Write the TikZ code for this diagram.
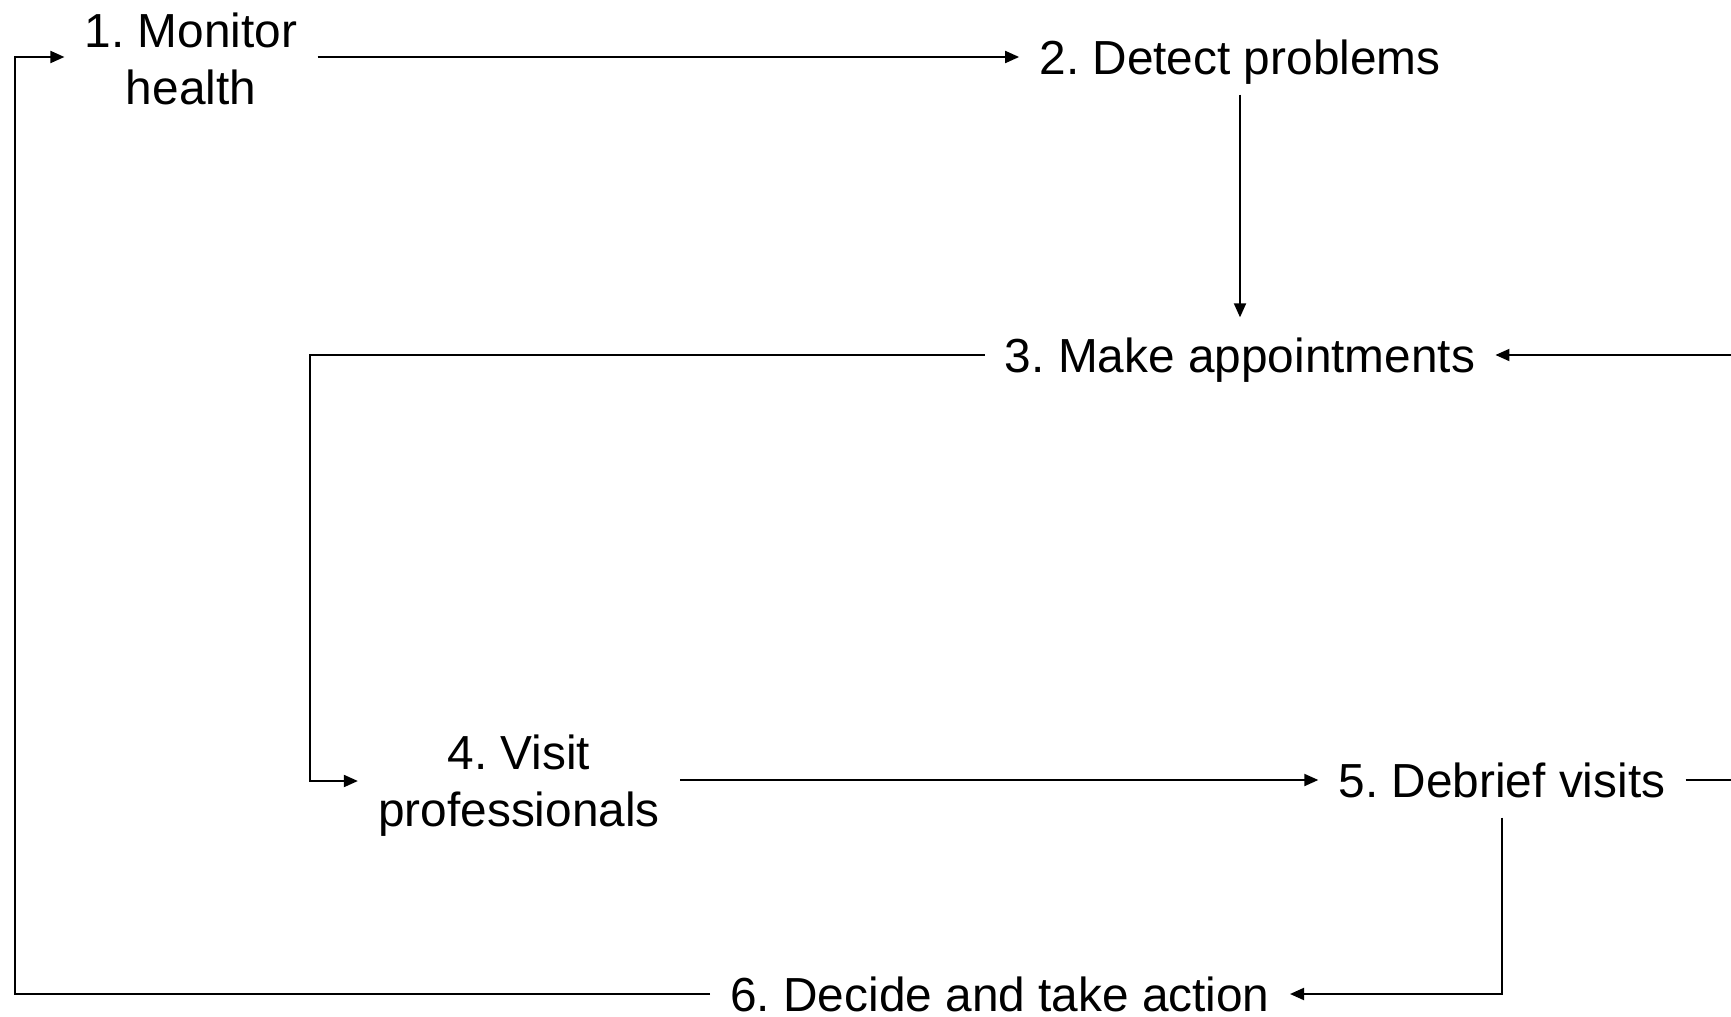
\documentclass[tikz,border=0pt]{standalone}
\usepackage{fontspec}
\setmainfont{Liberation Sans}
\usepackage{tikz}
\usetikzlibrary{arrows.meta, positioning}
\frenchspacing

\tikzset{
  stage/.style={font=\fontsize{27.2}{32.4}\selectfont, align=center,
    text depth=0pt, inner xsep=0.4cm, inner ysep=0.4cm},
  flow/.style={line width=1.1pt, -{Triangle[length=0.28cm, width=0.24cm]}}
}

\begin{document}
\begin{tikzpicture}[x=0.02cm, y=-0.02cm]
  \useasboundingbox (0,0) rectangle (1731,1017);
  % stages
  \node[stage] (monitor) at (191,59) {1. Monitor\\health};
  \node[stage] (detect) at (1240,57) {2. Detect problems};
  \node[stage] (appoint) at (1240,355) {3. Make appointments};
  \node[stage] (visit) at (519,781) {4. Visit\\professionals};
  \node[stage] (debrief) at (1502,780) {5. Debrief visits};
  \node[stage] (decide) at (1000,994) {6. Decide and take action};
  % corners of the loops
  \coordinate (leftA) at (310,355);
  \coordinate (rightD) at (1760,780);
  \coordinate (leftF) at (15,994);
  % connectors
  \draw[flow] (monitor.east |- detect.west) -- (detect.west);
  \draw[flow] (detect.south) -- (appoint.north);
  \draw[flow] (appoint.west) -- (leftA) |- (visit.west);
  \draw[flow] (visit.east |- debrief.west) -- (debrief.west);
  \draw[flow] (debrief.east) -- (rightD) |- (appoint.east);
  \draw[flow] (debrief.south) |- (decide.east);
  \draw[flow] (decide.west) -- (leftF) |- (monitor.west |- detect.west);
\end{tikzpicture}
\end{document}
